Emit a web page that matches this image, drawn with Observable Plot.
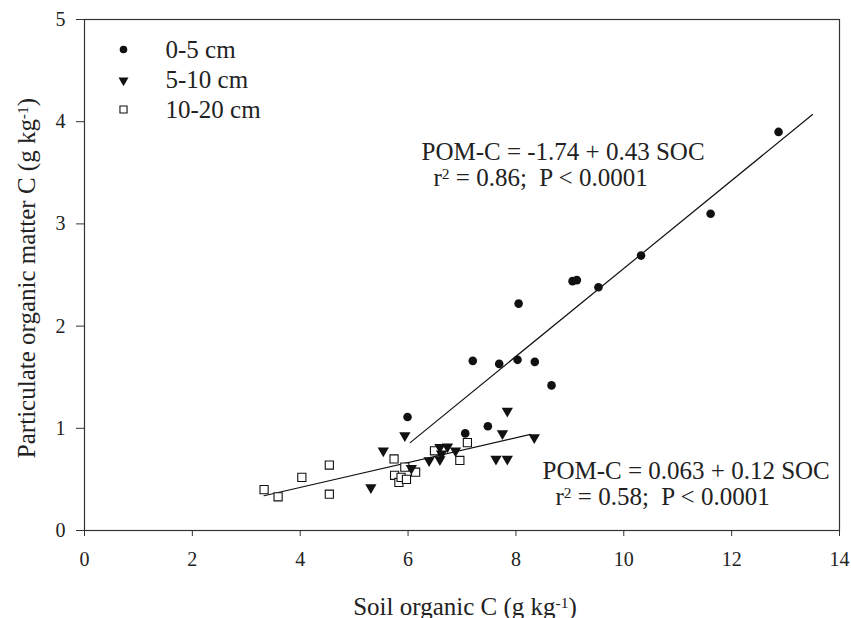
<!DOCTYPE html>
<html>
<head>
<meta charset="utf-8">
<script src="https://cdn.jsdelivr.net/npm/d3@7"></script>
<script src="https://cdn.jsdelivr.net/npm/@observablehq/plot@0.6"></script>
<style>
  body { margin: 0; background: #fff; }
  svg { font-family: "Liberation Serif", "Times New Roman", serif; }
</style>
</head>
<body>
<div id="chart"></div>
<script>
// 0-5 cm
const soc05 = [5.99, 7.06, 7.20, 7.48, 7.69, 8.03, 8.05, 8.35, 8.66, 9.05, 9.13, 9.53, 10.32, 11.61, 12.87];
const pom05 = [1.11, 0.95, 1.66, 1.02, 1.63, 1.67, 2.22, 1.65, 1.42, 2.44, 2.45, 2.38, 2.69, 3.10, 3.90];
// 5-10 cm
const soc510 = [5.31, 5.54, 5.94, 6.06, 6.39, 6.59, 6.59, 6.62, 6.73, 6.88, 7.63, 7.75, 7.84, 7.84, 8.34];
const pom510 = [0.42, 0.78, 0.93, 0.61, 0.685, 0.695, 0.815, 0.75, 0.82, 0.78, 0.70, 0.95, 0.70, 1.17, 0.91];
// 10-20 cm
const soc1020 = [3.33, 3.59, 4.03, 4.54, 4.54, 5.74, 5.75, 5.83, 5.87, 5.94, 5.97, 6.14, 6.49, 6.96, 7.10];
const pom1020 = [0.40, 0.33, 0.52, 0.64, 0.355, 0.70, 0.54, 0.47, 0.52, 0.62, 0.50, 0.57, 0.78, 0.685, 0.86];
// regression lines (endpoints as drawn)
const fit1X = [6.04, 13.5], fit1Y = [0.86, 4.07];
const fit2X = [3.33, 8.27], fit2Y = [0.34, 0.94];
// texts
const seriesLabels = ["0-5 cm", "5-10 cm", "10-20 cm"];
const eq1 = ["POM-C = -1.74 + 0.43 SOC", "r^{2} = 0.86;  P < 0.0001"];
const eq2 = ["POM-C = 0.063 + 0.12 SOC", "r^{2} = 0.58;  P < 0.0001"];
const xTicks = [0, 2, 4, 6, 8, 10, 12, 14];
const yTicks = [0, 1, 2, 3, 4, 5];
const xTitle = "Soil organic C (g kg^{-1})";
const yTitle = "Particulate organic matter C (g kg^{-1})";

const zip = (xs, ys) => xs.map((x, i) => ({x, y: ys[i]}));
const d05 = zip(soc05, pom05), d510 = zip(soc510, pom510), d1020 = zip(soc1020, pom1020);
const l1 = zip(fit1X, fit1Y), l2 = zip(fit2X, fit2Y);

const ink = "#111";
const txt = "#222";
const T = (s, o) => Plot.text([s], {text: d => d, fill: txt, fontSize: 25, lineAnchor: "middle", ...o});

const plot = Plot.plot({
  width: 851,
  height: 618,
  marginLeft: 84,
  marginRight: 12,
  marginTop: 19,
  marginBottom: 88,
  style: {fontFamily: "Liberation Serif", fontSize: "20px", color: txt, background: "#fff"},
  x: {domain: [0, 14], label: null},
  y: {domain: [0, 5], label: null},
  marks: [
    Plot.frame({stroke: "#333", strokeWidth: 1.2}),
    Plot.axisX({ticks: xTicks, tickFormat: "d", tickSize: 6, tickPadding: 15, fontSize: 20, label: null, stroke: "#333"}),
    Plot.axisY({ticks: yTicks, tickFormat: "d", tickSize: 8, tickPadding: 11, fontSize: 20, label: null, stroke: "#333"}),
    Plot.line(l1, {x: "x", y: "y", stroke: ink, strokeWidth: 1.2}),
    Plot.line(l2, {x: "x", y: "y", stroke: ink, strokeWidth: 1.2}),
    Plot.dot(d1020, {x: "x", y: "y", symbol: "square", r: 4.6, fill: "#fff", stroke: ink, strokeWidth: 1.1}),
    Plot.dot(d510, {x: "x", y: "y", symbol: "triangle", r: 4.2, rotate: 180, fill: ink, stroke: "none"}),
    Plot.dot(d05, {x: "x", y: "y", symbol: "circle", r: 4.3, fill: ink, stroke: "none"}),
    // legend
    Plot.dot([0], {frameAnchor: "top-left", dx: 39, dy: 30, symbol: "circle", r: 3.8, fill: ink}),
    Plot.dot([0], {frameAnchor: "top-left", dx: 39, dy: 61, symbol: "triangle", r: 3.7, rotate: 180, fill: ink}),
    Plot.dot([0], {frameAnchor: "top-left", dx: 39, dy: 90, symbol: "square", r: 4.0, fill: "#fff", stroke: ink, strokeWidth: 1.1}),
    T(seriesLabels[0], {frameAnchor: "top-left", dx: 81, dy: 30, textAnchor: "start"}),
    T(seriesLabels[1], {frameAnchor: "top-left", dx: 81, dy: 60, textAnchor: "start"}),
    T(seriesLabels[2], {frameAnchor: "top-left", dx: 81, dy: 90, textAnchor: "start"}),
    // equations
    T(eq1[0], {frameAnchor: "top-left", dx: 337, dy: 132.5, textAnchor: "start"}),
    T(eq1[1], {frameAnchor: "top-left", dx: 349, dy: 158.5, textAnchor: "start"}),
    T(eq2[0], {frameAnchor: "top-left", dx: 458, dy: 451.5, textAnchor: "start"}),
    T(eq2[1], {frameAnchor: "top-left", dx: 471, dy: 477.5, textAnchor: "start"}),
    // axis titles
    T(xTitle, {frameAnchor: "bottom", dx: 3, dy: 76, textAnchor: "middle", fontSize: 25}),
    T(yTitle, {frameAnchor: "left", dx: -58, dy: 3, rotate: -90, textAnchor: "middle", fontSize: 25})
  ]
});

// render ^{...} as superscripts
function supers(node) {
  const s = node.textContent;
  if (!s.includes("^{")) return;
  while (node.firstChild) node.removeChild(node.firstChild);
  const parts = s.split(/(\^\{[^}]*\})/);
  let shifted = false;
  for (const p of parts) {
    if (!p) continue;
    const t = document.createElementNS("http://www.w3.org/2000/svg", "tspan");
    if (p.startsWith("^{")) {
      t.textContent = p.slice(2, -1);
      t.setAttribute("dy", "-0.45em");
      t.setAttribute("font-size", "0.62em");
      shifted = true;
    } else {
      t.textContent = p;
      if (shifted) { t.setAttribute("dy", "0.279em"); shifted = false; }
    }
    node.appendChild(t);
  }
}
d3.select(plot).selectAll("text").each(function() {
  const lines = Array.from(this.children).filter(c => c.tagName === "tspan");
  if (lines.length) lines.forEach(supers);
  else supers(this);
});

document.getElementById("chart").appendChild(plot);
</script>
</body>
</html>
